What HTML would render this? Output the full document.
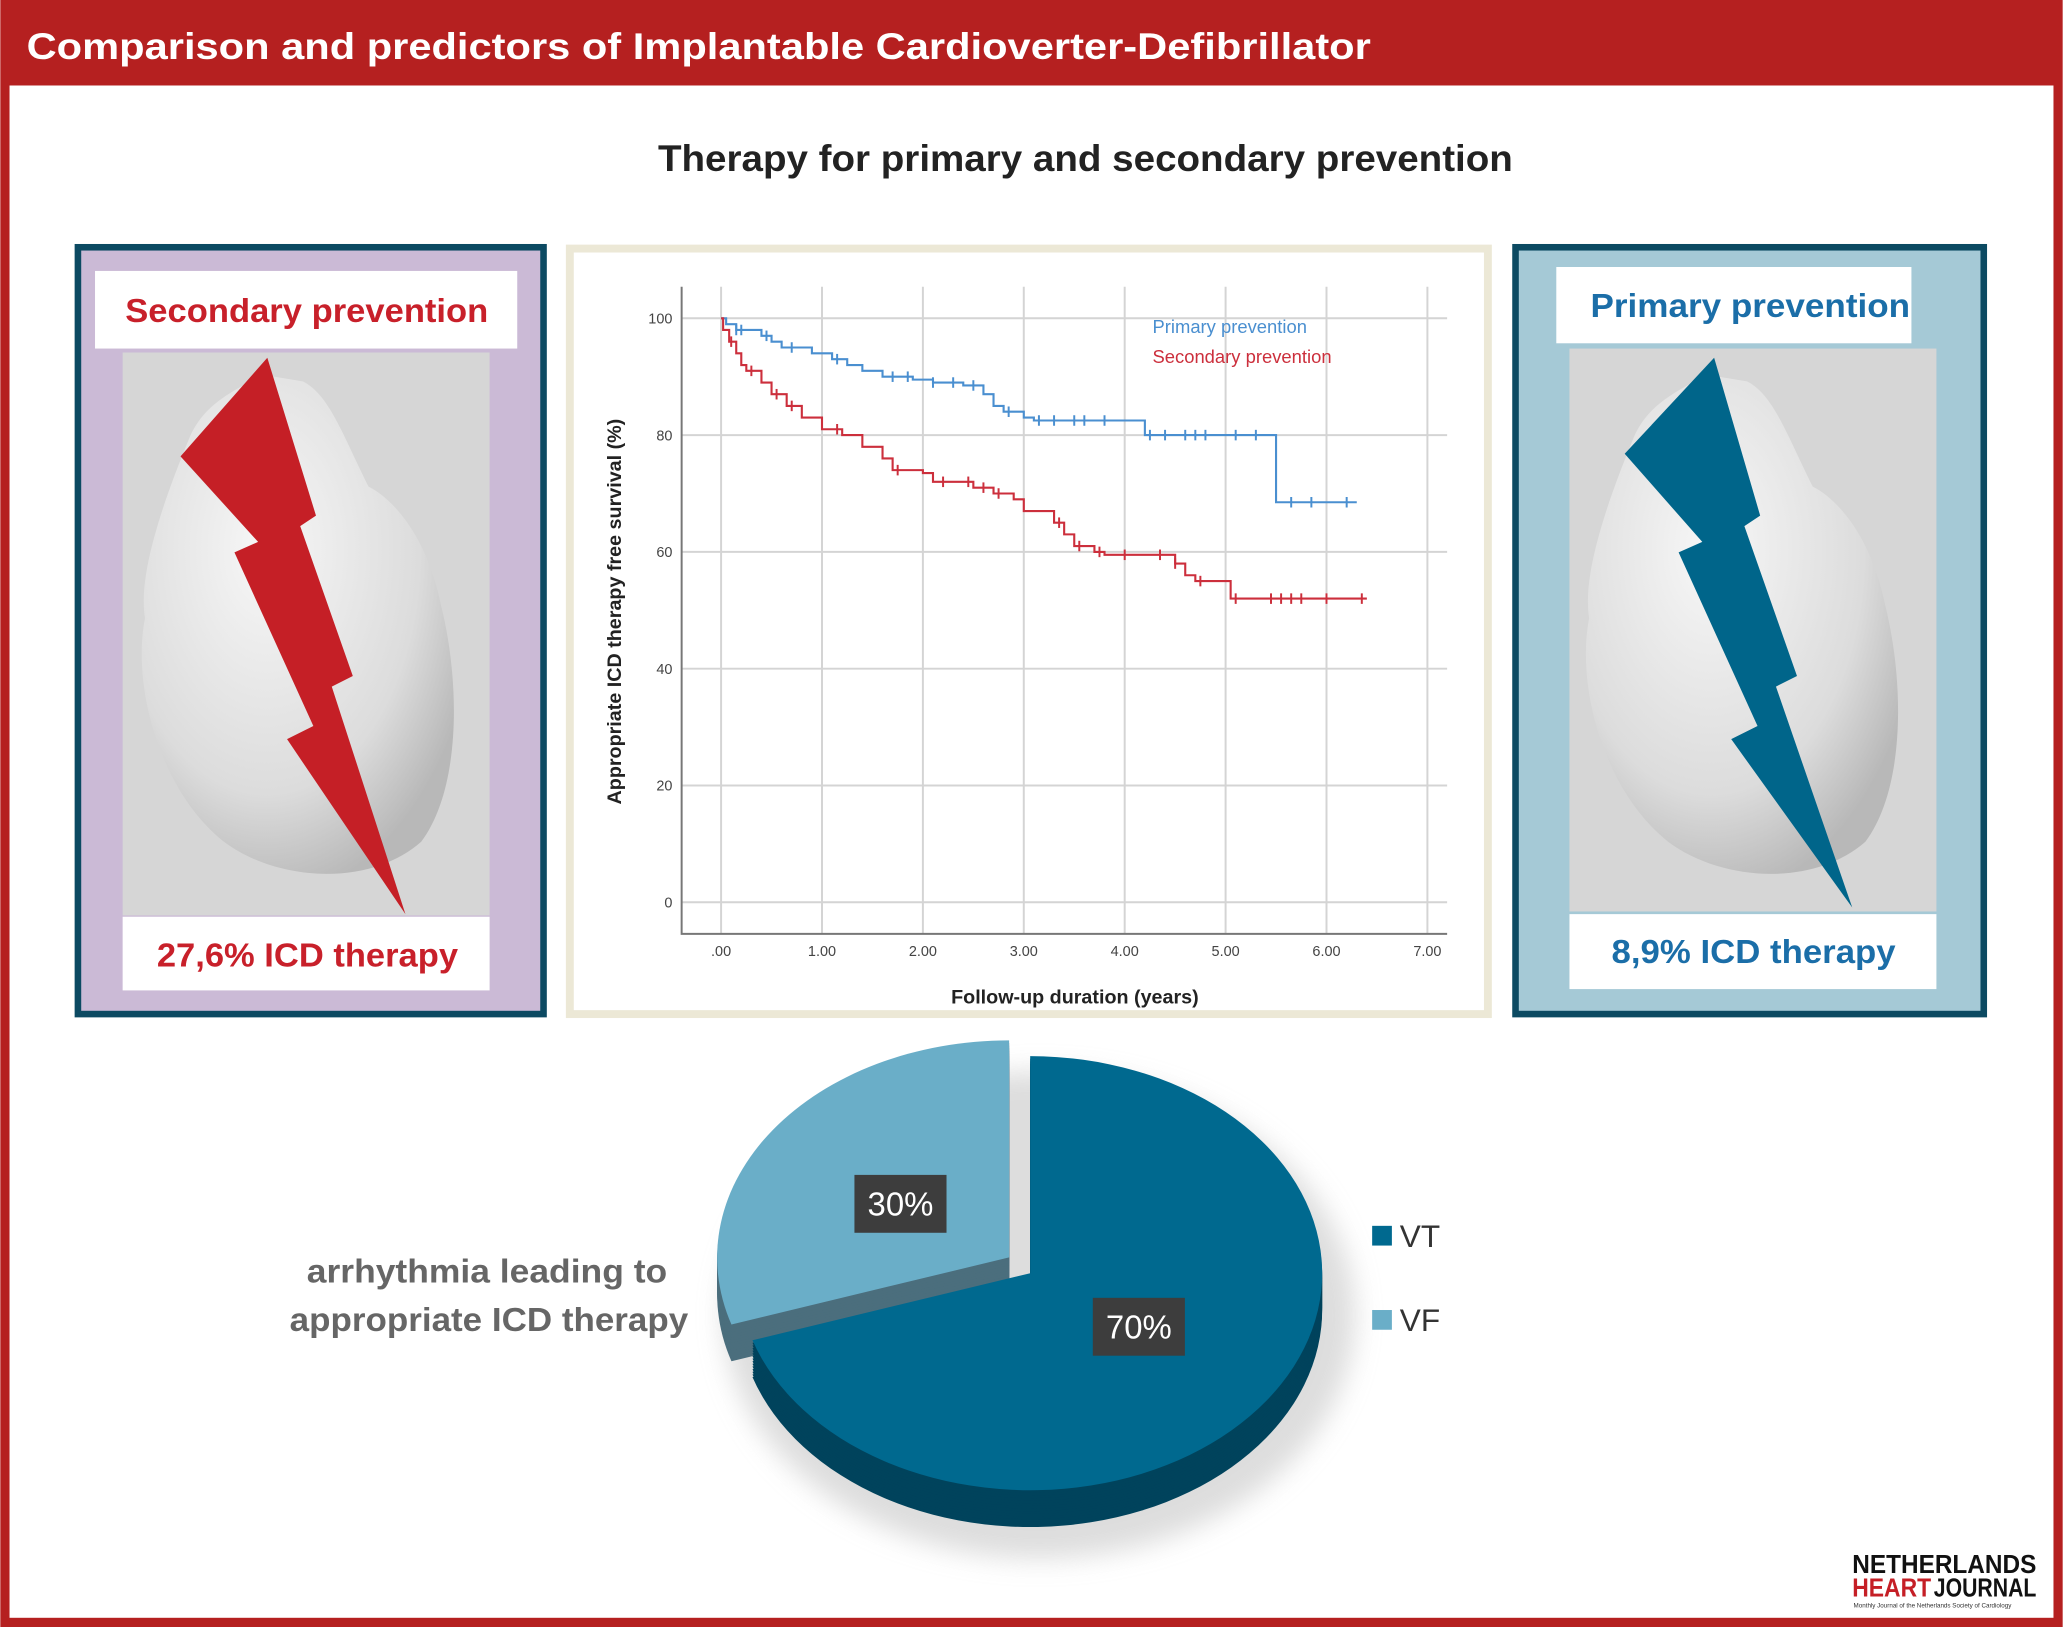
<!DOCTYPE html>
<html><head><meta charset="utf-8"><style>
html,body{margin:0;padding:0;background:#fff;}
svg{display:block;font-family:"Liberation Sans",sans-serif;}
</style></head><body>
<svg id="root" width="2063" height="1627" viewBox="0 0 1568 1237" xmlns="http://www.w3.org/2000/svg">
<defs>
<radialGradient id="heartG" cx="0.4" cy="0.35" r="0.7"><stop offset="0" stop-color="#f7f7f7"/><stop offset="0.7" stop-color="#dcdcdc"/><stop offset="1" stop-color="#b8b8b8"/></radialGradient>
<filter id="blur"><feGaussianBlur stdDeviation="10"/></filter>
</defs>
<rect x="0" y="0" width="1568" height="1237" fill="#b52020"/>
<rect x="7" y="65" width="1554" height="1165" fill="#fff"/>
<text x="20" y="45" font-size="28" font-weight="bold" fill="#fff" textLength="1022" lengthAdjust="spacingAndGlyphs">Comparison and predictors of Implantable Cardioverter-Defibrillator</text>
<text x="500" y="130" font-size="28" font-weight="bold" fill="#222" textLength="650" lengthAdjust="spacingAndGlyphs">Therapy for primary and secondary prevention</text>

<!-- Left panel -->
<g>
<rect x="59" y="188" width="354" height="583" fill="#cbbad6" stroke="#0c4a62" stroke-width="5"/>
<rect x="72" y="206" width="321" height="59" fill="#fff"/>
<text x="95" y="245" font-size="25" font-weight="bold" fill="#c8202a" textLength="276" lengthAdjust="spacingAndGlyphs">Secondary prevention</text>
<rect x="93" y="268" width="279" height="428" fill="#d6d6d6"/>
<path d="M145 330 C120 390 105 440 110 470 C100 520 120 600 170 640 C210 670 280 675 320 640 C350 600 350 520 335 460 C325 410 300 380 280 370 C260 330 250 300 230 290 L200 285 C170 300 155 310 145 330Z" fill="url(#heartG)"/>
<path d="M203 272 L240 392 L228 400 L268 514 L252 522 L308 695 L218 562 L238 552 L178 420 L196 412 L137 347Z" fill="#c51f26"/>
<rect x="93" y="697" width="279" height="56" fill="#fff"/>
<text x="119" y="735" font-size="25" font-weight="bold" fill="#c8202a" textLength="229" lengthAdjust="spacingAndGlyphs">27,6% ICD therapy</text>
</g>

<!-- Right panel -->
<g>
<rect x="1152" y="188" width="356" height="583" fill="#a5c9d6" stroke="#0c4a62" stroke-width="5"/>
<rect x="1183" y="203" width="270" height="58" fill="#fff"/>
<text x="1209" y="241" font-size="25" font-weight="bold" fill="#1b6ea8" textLength="243" lengthAdjust="spacingAndGlyphs">Primary prevention</text>
<rect x="1193" y="265" width="279" height="428" fill="#d6d6d6"/>
<path d="M1243 330 C1218 390 1203 440 1208 470 C1198 520 1218 600 1268 640 C1308 670 1378 675 1418 640 C1448 600 1448 520 1433 460 C1423 410 1398 380 1378 370 C1358 330 1348 300 1328 290 L1298 285 C1268 300 1253 310 1243 330Z" fill="url(#heartG)"/>
<path d="M1303 272 L1338 392 L1326 400 L1366 514 L1350 522 L1408 690 L1316 562 L1336 552 L1276 420 L1294 412 L1235 345Z" fill="#00658a"/>
<rect x="1193" y="695" width="279" height="57" fill="#fff"/>
<text x="1225" y="732" font-size="25" font-weight="bold" fill="#1b6ea8" textLength="216" lengthAdjust="spacingAndGlyphs">8,9% ICD therapy</text>
</g>

<!-- KM chart -->
<rect x="433" y="189" width="698" height="582" fill="#fff" stroke="#ece8d6" stroke-width="6"/>
<g id="km"></g>

<!-- Pie -->
<ellipse cx="790" cy="1000" rx="240" ry="185" fill="#cfcfcf" filter="url(#blur)" opacity="0.7"/>
<g id="pie"></g>
<text x="233" y="975" font-size="25" font-weight="bold" fill="#666" textLength="274" lengthAdjust="spacingAndGlyphs">arrhythmia leading to</text>
<text x="220" y="1012" font-size="25" font-weight="bold" fill="#666" textLength="303" lengthAdjust="spacingAndGlyphs">appropriate ICD therapy</text>
<g><rect x="1043" y="932" width="15" height="15" fill="#00698f"/><text x="1064" y="948" font-size="24" fill="#333">VT</text></g>
<g><rect x="1043" y="996" width="15" height="15" fill="#6aaec8"/><text x="1064" y="1012" font-size="24" fill="#333">VF</text></g>

<!-- Logo -->
<g>
<text x="1408" y="1196" font-size="20" font-weight="bold" fill="#111" textLength="140" lengthAdjust="spacingAndGlyphs">NETHERLANDS</text>
<text x="1408" y="1214" font-size="20" font-weight="bold" fill="#c51f26" textLength="60" lengthAdjust="spacingAndGlyphs">HEART</text>
<text x="1470" y="1214" font-size="20" font-weight="bold" fill="#111" textLength="78" lengthAdjust="spacingAndGlyphs">JOURNAL</text>
<text x="1409" y="1222" font-size="5" fill="#333" textLength="120" lengthAdjust="spacingAndGlyphs">Monthly Journal of the Netherlands Society of Cardiology</text>
</g>
</svg>
<script>
const xTicks=[0,1,2,3,4,5,6,7];
const xTickLabels=[".00","1.00","2.00","3.00","4.00","5.00","6.00","7.00"];
const yTicks=[0,20,40,60,80,100];
const primaryTimes=[0,0.05,0.15,0.4,0.5,0.6,0.9,1.1,1.25,1.4,1.6,1.9,2.1,2.4,2.6,2.7,2.8,3.0,3.1,4.2,5.5,6.3];
const primaryValues=[100,99,98,97,96,95,94,93,92,91,90,89.5,89,88.5,87,85,84,83,82.5,80,68.5,68.5];
const primaryCensor=[0.15,0.2,0.45,0.7,1.15,1.7,1.85,2.1,2.3,2.5,2.85,3.15,3.3,3.5,3.6,3.8,4.25,4.4,4.6,4.7,4.8,5.1,5.3,5.65,5.85,6.2];
const secondaryTimes=[0,0.02,0.08,0.15,0.2,0.25,0.4,0.5,0.65,0.8,1.0,1.2,1.4,1.6,1.7,2.0,2.1,2.5,2.7,2.9,3.0,3.3,3.4,3.5,3.7,3.8,4.5,4.6,4.7,5.05,6.4];
const secondaryValues=[100,98,96,94,92,91,89,87,85,83,81,80,78,76,74,73.5,72,71,70,69,67,65,63,61,60,59.5,58,56,55,52,52];
const secondaryCensor=[0.1,0.3,0.55,0.7,1.15,1.75,2.2,2.45,2.6,2.75,3.35,3.55,3.75,4.0,4.35,4.5,4.75,5.1,5.45,5.55,5.65,5.75,6.0,6.35];
const pieLabels=["VT","VF"];
const pieValues=[70,30];

const NS="http://www.w3.org/2000/svg";
function mk(tag,attrs,parent){const e=document.createElementNS(NS,tag);for(const k in attrs)e.setAttribute(k,attrs[k]);parent.appendChild(e);return e;}
const X0=548,X1=1085,Y0=686,Y1=242;
const xs=t=>X0+(X1-X0)*t/7;
const ys=v=>Y0-(Y0-Y1)*v/100;
const km=document.getElementById('km');
xTicks.forEach((t,i)=>{
  const g=mk('line',{x1:xs(t),x2:xs(t),y1:218,y2:710,stroke:'#d4d4d4','stroke-width':1.5},km);
  
  
  const l=mk('text',{x:xs(t),y:727,'font-size':11,'text-anchor':'middle',fill:'#444'},km);
  l.textContent=xTickLabels[i];
  
  
});
yTicks.forEach(v=>{
  const g=mk('line',{x1:518,x2:1100,y1:ys(v),y2:ys(v),stroke:'#d4d4d4','stroke-width':1.5},km);
  
  
  const l=mk('text',{x:511,y:ys(v)+4,'font-size':11,'text-anchor':'end',fill:'#444'},km);
  l.textContent=String(v);
  
  
});
const ax=mk('path',{d:'M518 218 L518 710 L1100 710',fill:'none',stroke:'#777','stroke-width':1.5},km);


const xt=mk('text',{x:817,y:763,'font-size':15,'font-weight':'bold','text-anchor':'middle',fill:'#222'},km);
xt.textContent='Follow-up duration (years)';


const yt=mk('text',{x:0,y:0,'font-size':15,'font-weight':'bold','text-anchor':'middle',fill:'#222',transform:'translate(472 465) rotate(-90)'},km);
yt.textContent='Appropriate ICD therapy free survival (%)';


function valAt(ts,vs,t){let v=vs[0];for(let i=0;i<ts.length;i++){if(ts[i]<=t)v=vs[i];}return v;}
function drawSeries(ts,vs,cens,color,name){
  let d='M'+xs(ts[0])+' '+ys(vs[0]);
  for(let i=1;i<ts.length;i++){d+=' L'+xs(ts[i])+' '+ys(vs[i-1])+' L'+xs(ts[i])+' '+ys(vs[i]);}
  const p=mk('path',{d:d,fill:'none',stroke:color,'stroke-width':1.6},km);
  
  
  cens.forEach(t=>{
    const c=mk('line',{x1:xs(t),x2:xs(t),y1:ys(valAt(ts,vs,t))-4,y2:ys(valAt(ts,vs,t))+4,stroke:color,'stroke-width':1.5},km);
    
    
  });
}
drawSeries(primaryTimes,primaryValues,primaryCensor,'#4a8fd0','primary-series');
drawSeries(secondaryTimes,secondaryValues,secondaryCensor,'#cc2f3c','secondary-series');
const lg1=mk('text',{x:876,y:253,'font-size':14,fill:'#4a8fd0'},km);
lg1.textContent='Primary prevention';


const lg2=mk('text',{x:876,y:276,'font-size':14,fill:'#cc2f3c'},km);
lg2.textContent='Secondary prevention';



// Pie
const pie=document.getElementById('pie');
const CX=783,CY=968,RX=222,RY=165,DEPTH=28;
const colors=['#00698f','#6aaec8'];
const sides=['#00435c','#4b6e7d'];
const offsets=[[0,0],[-16,-12]];
const total=pieValues.reduce((a,b)=>a+b,0);
function sector(cx,cy,a0,a1){
  const p0=[cx+RX*Math.cos(a0),cy+RY*Math.sin(a0)],p1=[cx+RX*Math.cos(a1),cy+RY*Math.sin(a1)];
  const large=(a1-a0)>Math.PI?1:0;
  return 'M'+cx+' '+cy+' L'+p0[0]+' '+p0[1]+' A'+RX+' '+RY+' 0 '+large+' 1 '+p1[0]+' '+p1[1]+' Z';
}
let start=-Math.PI/2;
const angs=pieValues.map(v=>{const a0=start;start+=2*Math.PI*v/total;return [a0,start];});
[1,0].forEach(i=>{
  const [a0,a1]=angs[i];const [ox,oy]=offsets[i];
  for(let dz=DEPTH;dz>0;dz-=2){
    const s=mk('path',{d:sector(CX+ox,CY+oy+dz,a0,a1),fill:sides[i]},pie);
    
    
  }
  const t=mk('path',{d:sector(CX+ox,CY+oy,a0,a1),fill:colors[i]},pie);
  
  
  const mid=(a0+a1)/2;
  const lx=CX+ox+RX*0.46*Math.cos(mid),ly=CY+oy+RY*0.42*Math.sin(mid);
  const b=mk('rect',{x:lx-35,y:ly-22,width:70,height:44,fill:'#3d3d3d'},pie);
  
  
  const tx=mk('text',{x:lx,y:ly+9,'font-size':25,fill:'#fff','text-anchor':'middle'},pie);
  tx.textContent=pieValues[i]+'%';
  
  
});
</script>
</body></html>
